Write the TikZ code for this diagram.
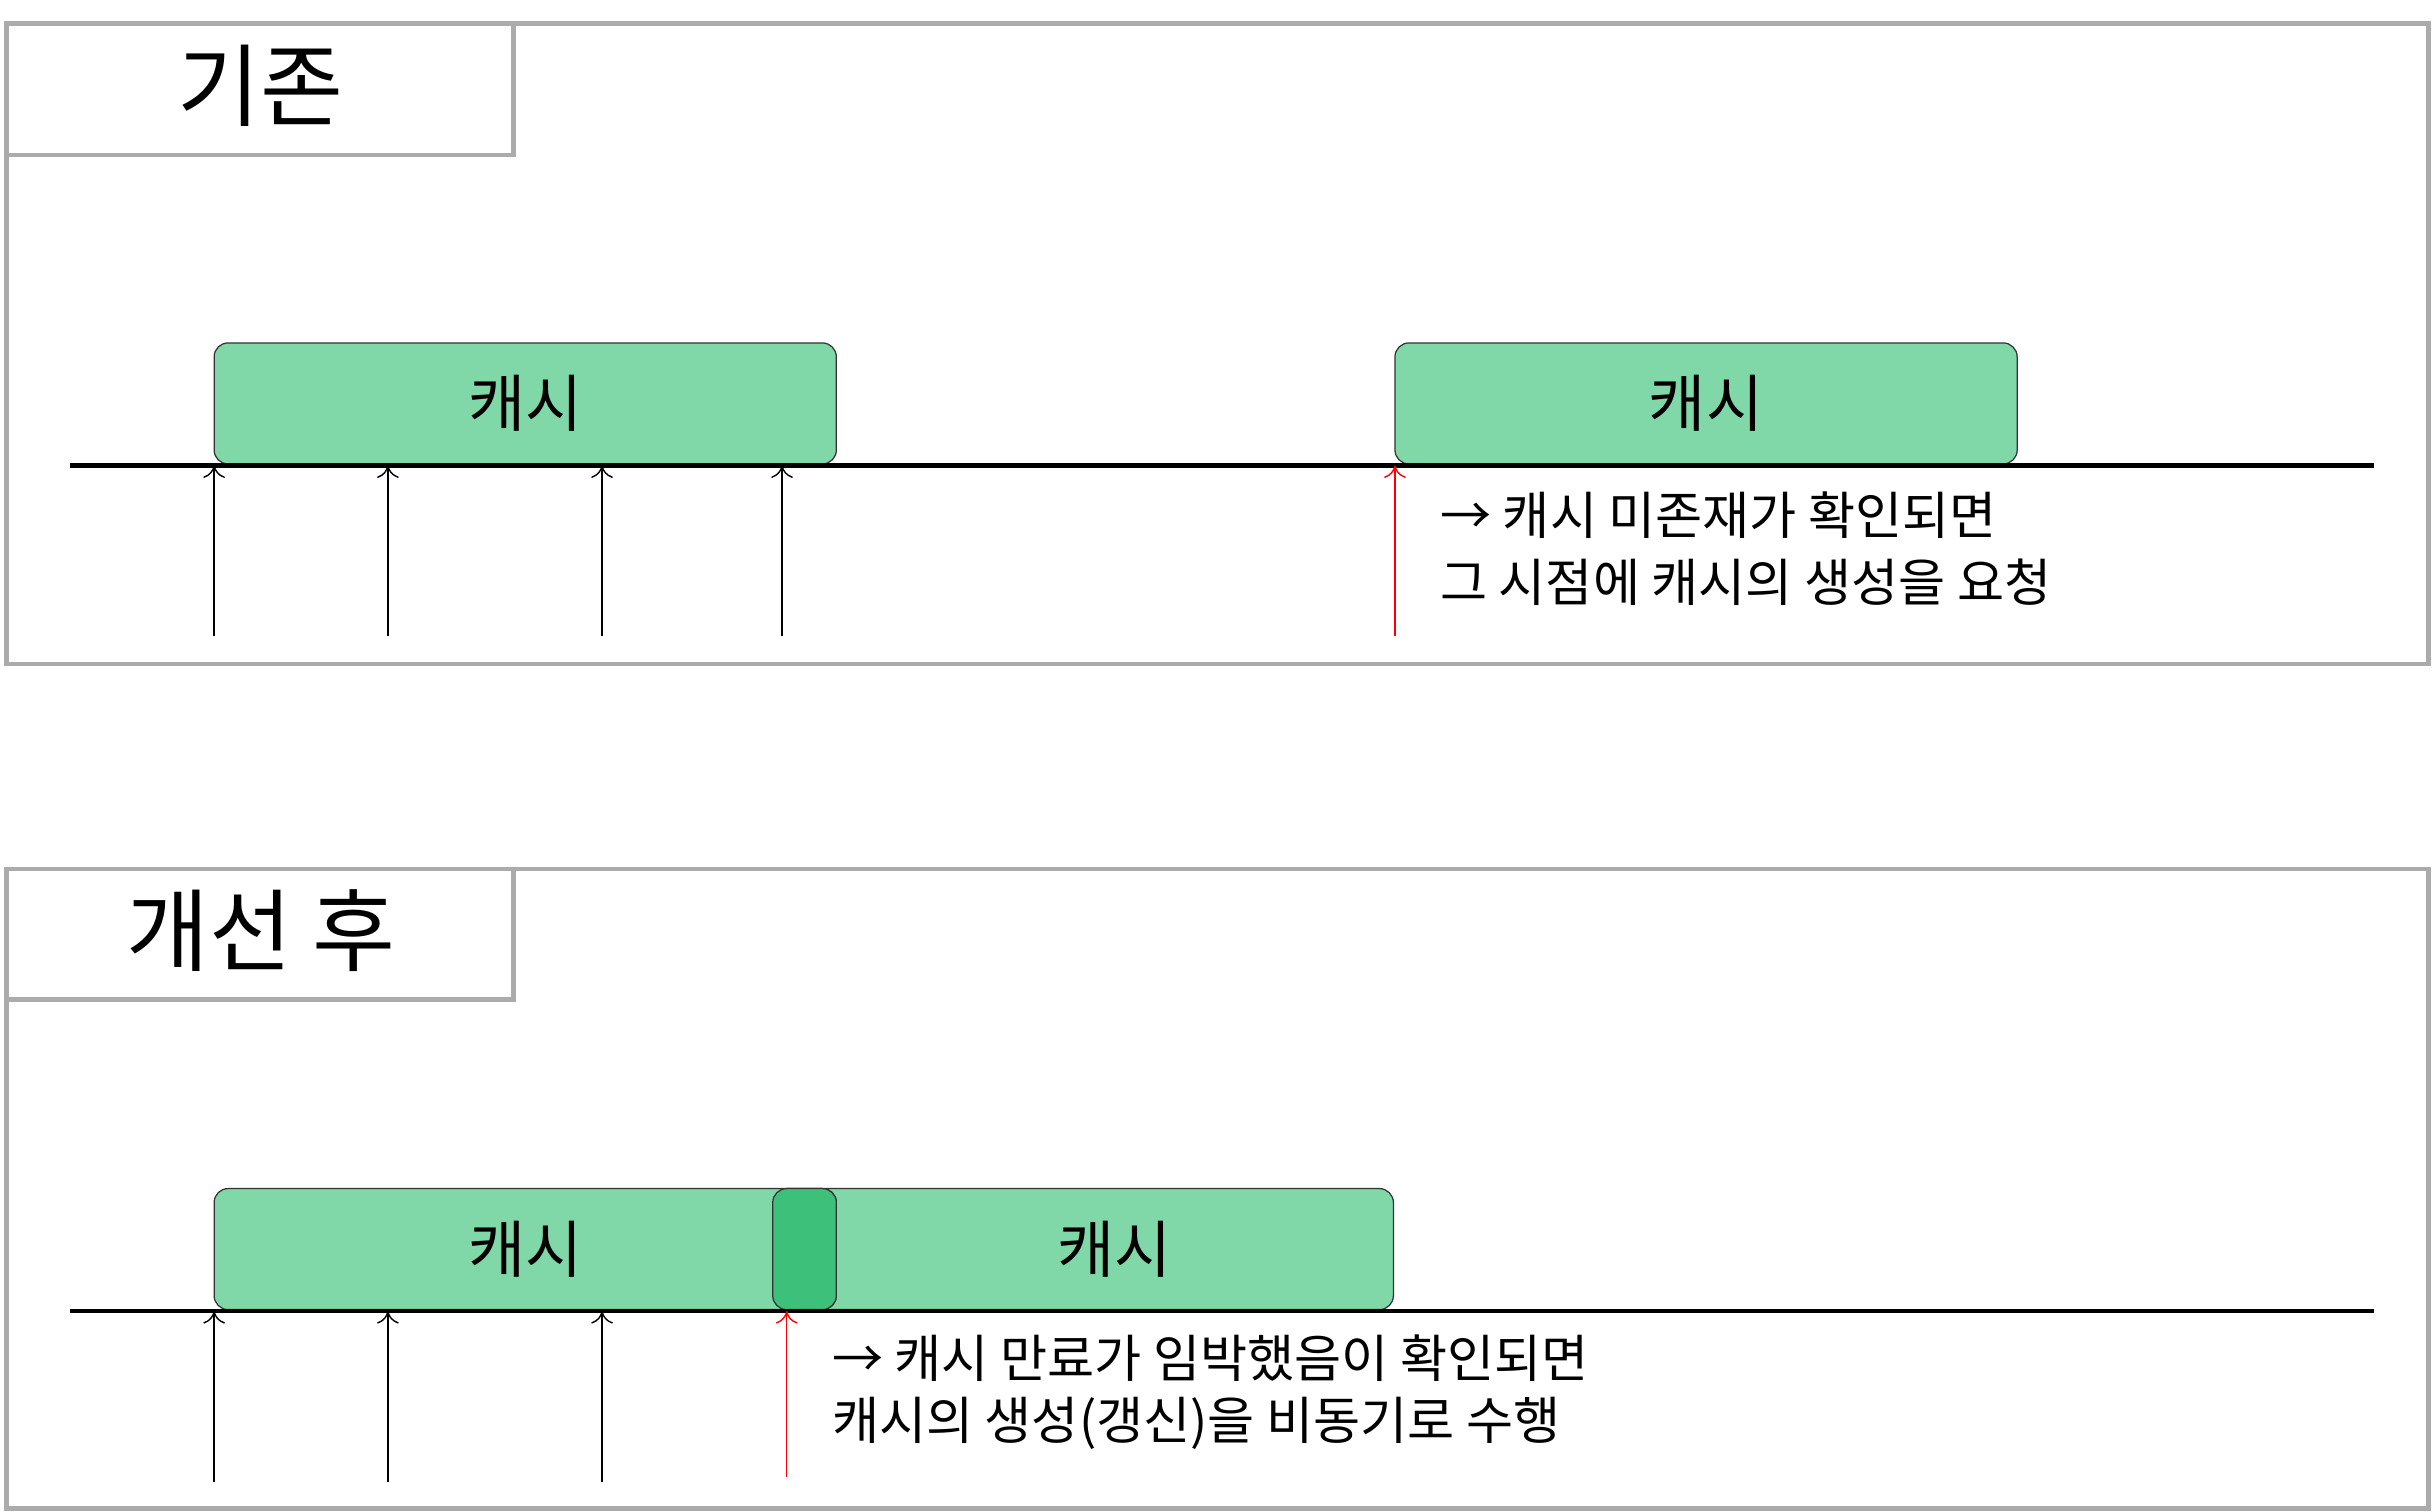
\documentclass[tikz,border=0pt]{standalone}
\usetikzlibrary{arrows.meta}
\usepackage{fontspec}
\setmainfont{Noto Sans CJK KR}
\begin{document}
\begin{tikzpicture}[x=1pt,y=-1pt,
 panel/.style={draw=black!33,line width=3pt},
 cache/.style={draw=black!80,fill=cacheg,rounded corners=9pt,line width=0.8pt},
 tl/.style={line width=3pt},
 up/.style={-{To[open,length=8pt,width=14pt]},line width=0.9pt},
 lbl/.style={font=\fontsize{40}{48}\selectfont,inner sep=0pt},
 ttl/.style={font=\fontsize{58}{64}\selectfont,inner sep=0pt},
 note/.style={font=\fontsize{33}{40}\selectfont,inner sep=0pt,anchor=west}]
\definecolor{cacheg}{HTML}{80D8A8}
\definecolor{overg}{HTML}{3DC17A}
\useasboundingbox (0,0) rectangle (1568,974);
% panel 1
\draw[panel] (4,15) rectangle (1565,428);
\draw[panel] (4,15) rectangle (331,100);
\node[ttl] (t1) at (168,55) {기존};
\node[cache,minimum width=401pt,minimum height=78pt] (c1) at (338.5,260) {};
\node[lbl] at (c1) {캐시};
\node[cache,minimum width=401pt,minimum height=78pt] (c2) at (1099.5,260) {};
\node[lbl] at (c2) {캐시};
\coordinate (l1a) at (45,300); \coordinate (l1b) at (1530,300);
\draw[tl] (l1a) -- (l1b);
\foreach \x/\n in {138/a,250/b,388/c,504/d}{
 \coordinate (s\n) at (\x,410); \coordinate (e\n) at (\x,300);
 \draw[up] (s\n) -- (e\n);}
\coordinate (sr) at (899,410); \coordinate (er) at (899,300);
\draw[up,red] (sr) -- (er);
\node[note] (n1) at (928,332) {→ 캐시 미존재가 확인되면};
\node[note] (n2) at (928,375) {그 시점에 캐시의 생성을 요청};
% panel 2
\draw[panel] (4,560) rectangle (1565,972);
\draw[panel] (4,560) rectangle (331,644);
\node[ttl] (t2) at (168,600) {개선 후};
\node[cache,minimum width=400pt,minimum height=78pt] (c4) at (698,805) {};
\node[cache,minimum width=401pt,minimum height=78pt] (c3) at (338.5,805) {};
\node[cache,fill=overg,minimum width=41pt,minimum height=78pt] (ov) at (518.5,805) {};
\node[lbl] at (c3) {캐시};
\node[lbl] at (718,805) {캐시};
\coordinate (l2a) at (45,845); \coordinate (l2b) at (1530,845);
\draw[tl] (l2a) -- (l2b);
\foreach \x/\n in {138/a,250/b,388/c}{
 \coordinate (u\n) at (\x,955); \coordinate (v\n) at (\x,845);
 \draw[up] (u\n) -- (v\n);}
\coordinate (ur) at (507,952); \coordinate (vr) at (507,845);
\draw[up,red] (ur) -- (vr);
\node[note] (n3) at (536,875) {→ 캐시 만료가 임박했음이 확인되면};
\node[note] (n4) at (536,917) {캐시의 생성(갱신)을 비동기로 수행};
\end{tikzpicture}
\end{document}
